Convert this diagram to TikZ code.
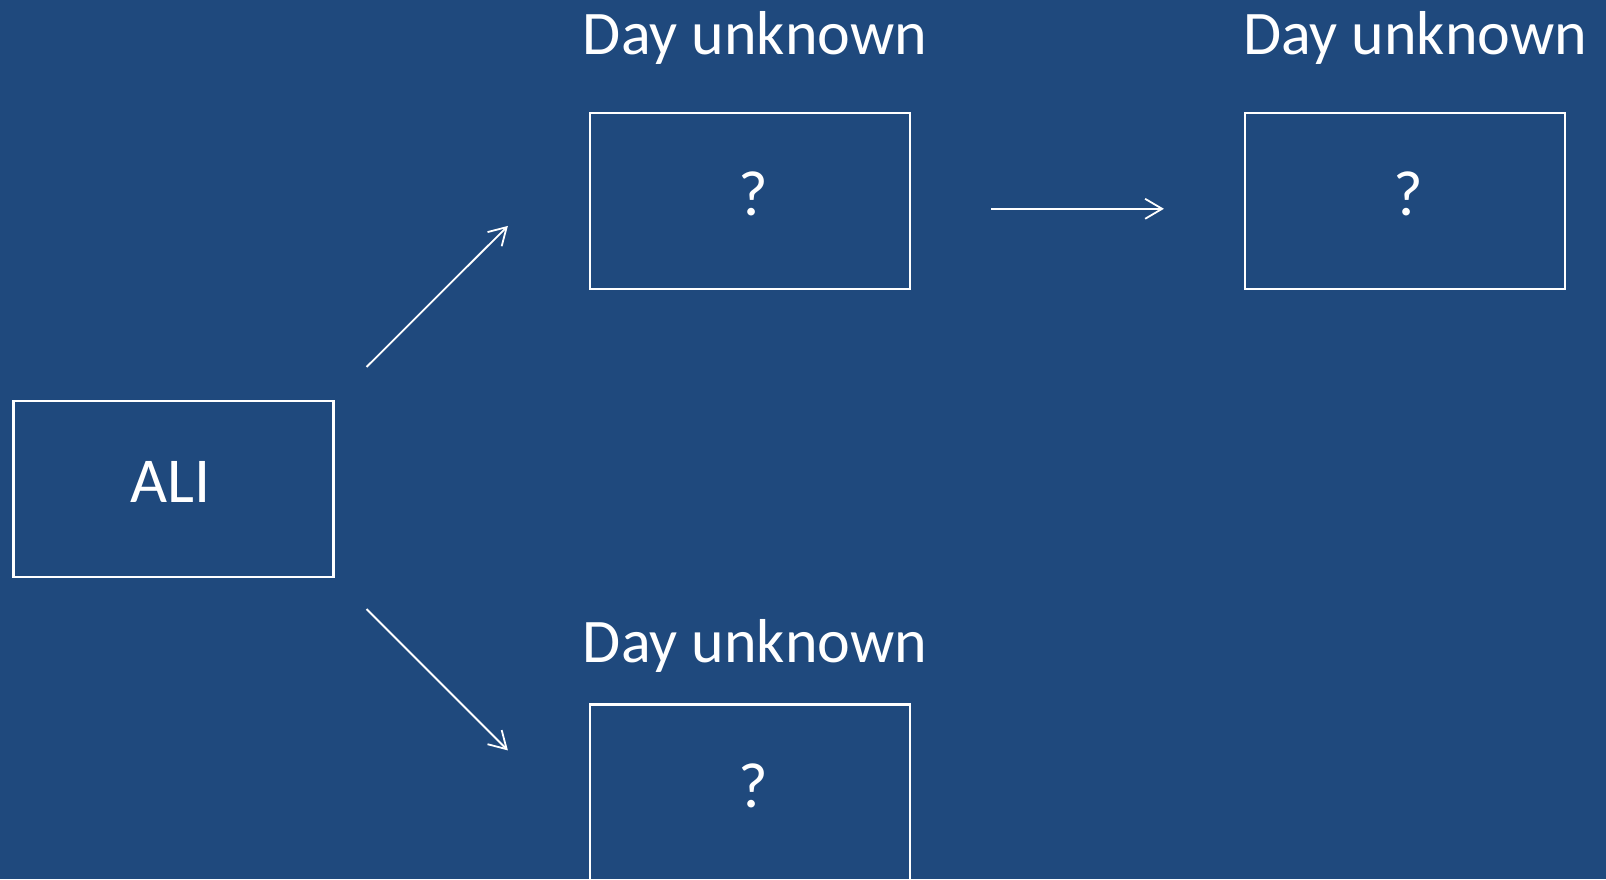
\documentclass[tikz,border=0pt]{standalone}
\usepackage{fontspec}
\setmainfont{Carlito}
\usetikzlibrary{arrows.meta}
\definecolor{bgblue}{RGB}{31,73,125}
\begin{document}
\begin{tikzpicture}[x=1pt,y=-1pt,
  box/.style={draw=white,line width=2.2pt,minimum width=320pt,minimum height=176pt,
    inner sep=0pt,text=white,font=\fontsize{64}{72}\selectfont,text depth=14pt},
  daylabel/.style={text=white,font=\fontsize{62}{70}\selectfont,anchor=base,inner sep=0pt},
  arr/.style={draw=white,line width=1.8pt,-{Straight Barb[length=17pt,width=20pt,line width=1.8pt]}}]
\useasboundingbox[fill=bgblue] (0,0) rectangle (1606,879);
\node[box] (ali) at (173.5,489) {\hspace*{-6pt}ALI};
\node[box] (q1) at (750,200.8) {\hspace*{6pt}?};
\node[box] (q2) at (1405,200.8) {\hspace*{6pt}?};
\node[box] (q3) at (750,792.5) {\hspace*{6pt}?};
\node[daylabel] (d1) at (755,54) {Day unknown};
\node[daylabel] (d2) at (1415,54) {Day unknown};
\node[daylabel] (d3) at (755,662) {Day unknown};
\coordinate (a1s) at ([shift={(32,-33)}]ali.north east);
\coordinate (a1e) at ([shift={(-81,-64)}]q1.south west);
\coordinate (a2s) at ([shift={(32,31)}]ali.south east);
\coordinate (a2e) at ([shift={(-81,47)}]q3.north west);
\coordinate (a3s) at ([shift={(80,8)}]q1.east);
\coordinate (a3e) at ([shift={(-80,8)}]q2.west);
\draw[arr] (a1s) -- (a1e);
\draw[arr] (a2s) -- (a2e);
\draw[arr] (a3s) -- (a3e);
\end{tikzpicture}
\end{document}
